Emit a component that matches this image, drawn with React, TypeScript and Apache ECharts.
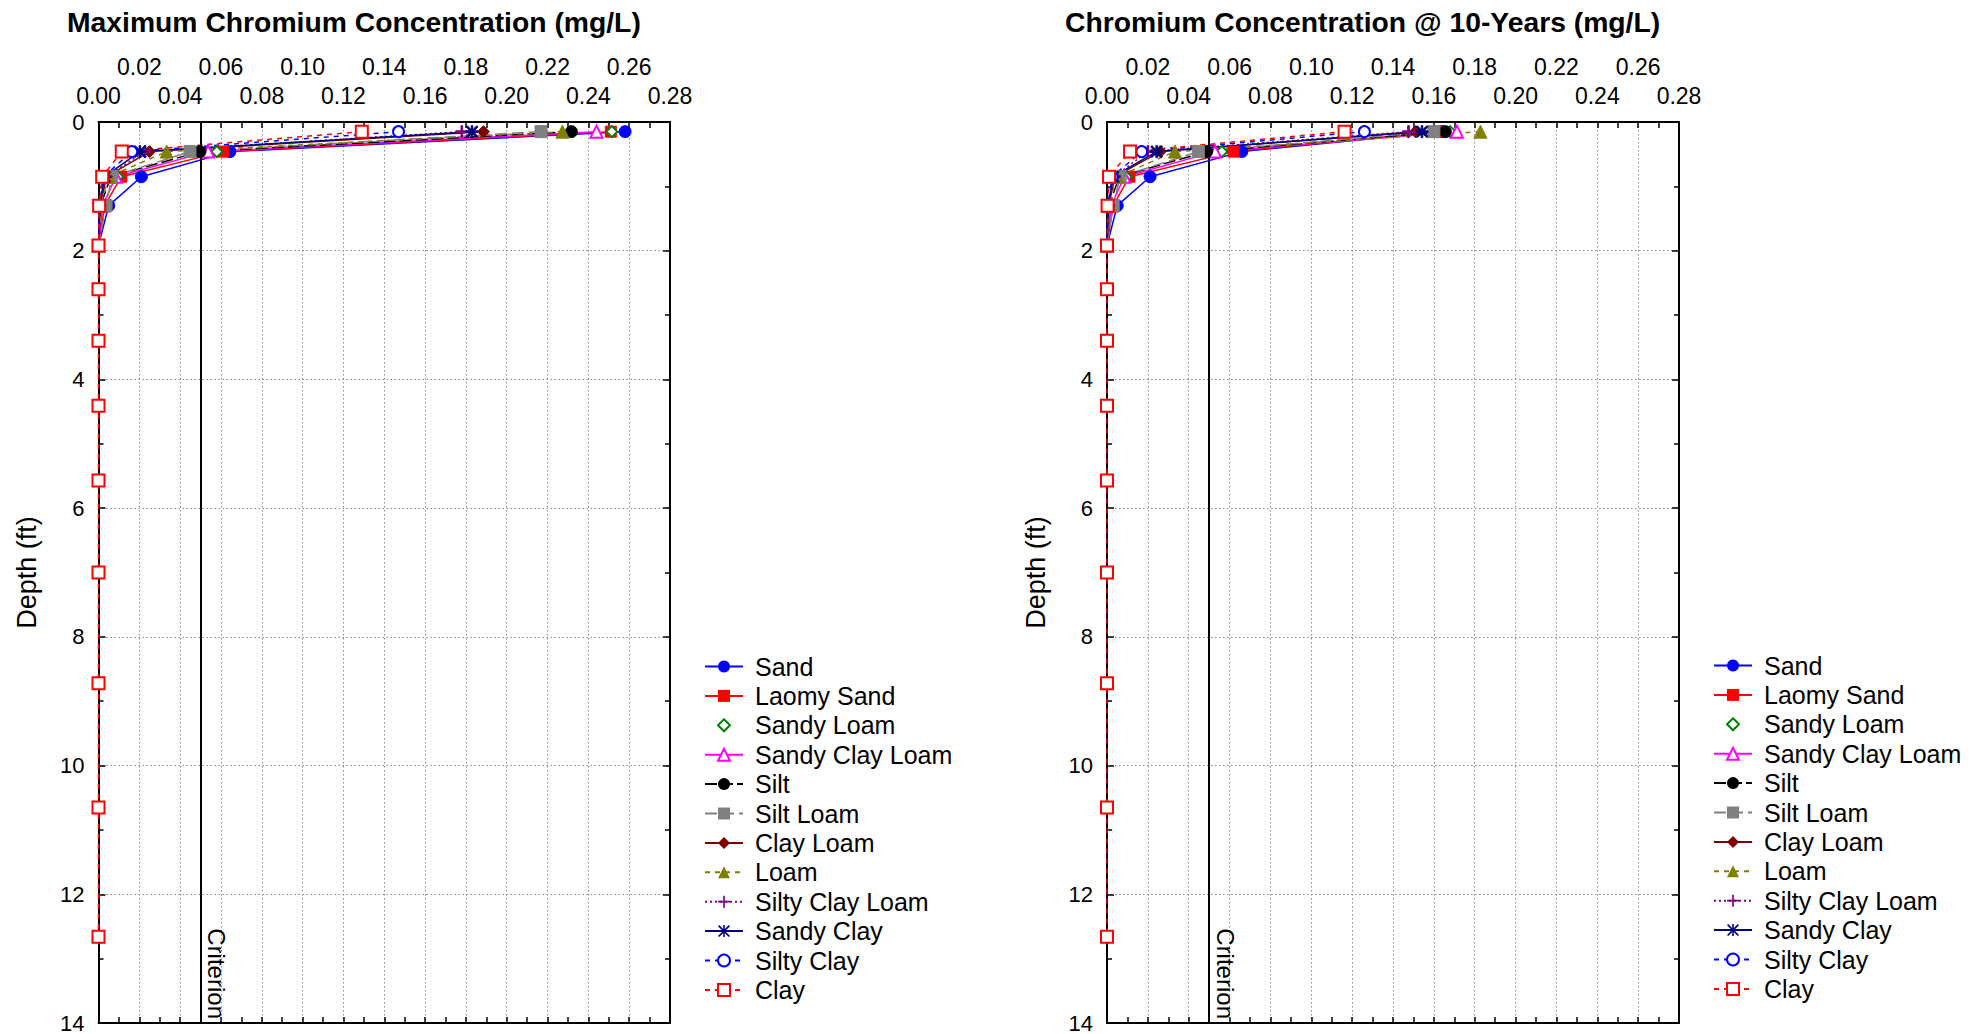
import React, { useEffect, useRef } from "react";
import * as echarts from "echarts";

// ---------- DATA ----------
const seriesNames = [
  "Sand",
  "Laomy Sand",
  "Sandy Loam",
  "Sandy Clay Loam",
  "Silt",
  "Silt Loam",
  "Clay Loam",
  "Loam",
  "Silty Clay Loam",
  "Sandy Clay",
  "Silty Clay",
  "Clay",
];

// depth nodes (ft)
const depthsShallow = [0.15, 0.46, 0.85, 1.3, 1.92];
const depthsClay = [0.15, 0.46, 0.85, 1.3, 1.92, 2.6, 3.4, 4.41, 5.57, 7.0, 8.72, 10.65, 12.66];

// Maximum concentration (mg/L)
const maxSand = [0.258, 0.0644, 0.021, 0.005, 0];
const maxLaomySand = [0.251, 0.061, 0.0112, 0.003, 0];
const maxSandyLoam = [0.2515, 0.058, 0.0095, 0.0025, 0];
const maxSandyClayLoam = [0.244, 0.0537, 0.0085, 0.002, 0];
const maxSilt = [0.2317, 0.0497, 0.006, 0.001, 0];
const maxSiltLoam = [0.2168, 0.0448, 0.0065, 0.0037, 0];
const maxClayLoam = [0.1886, 0.025, 0.004, 0.0008, 0];
const maxLoam = [0.2273, 0.0334, 0.005, 0.001, 0];
const maxSiltyClayLoam = [0.178, 0.0228, 0.0035, 0.0006, 0];
const maxSandyClay = [0.183, 0.0203, 0.003, 0.0005, 0];
const maxSiltyClay = [0.147, 0.0163, 0.0025, 0.0004, 0];
const maxClay = [0.129, 0.0114, 0.0018, 0.0003, 0, 0, 0, 0, 0, 0, 0, 0, 0];

// Concentration at 10 years (mg/L)
const yr10Sand = [0.164, 0.066, 0.0211, 0.005, 0];
const yr10LaomySand = [0.1623, 0.0619, 0.011, 0.003, 0];
const yr10SandyLoam = [0.168, 0.0562, 0.0095, 0.0025, 0];
const yr10SandyClayLoam = [0.1713, 0.0529, 0.0085, 0.002, 0];
const yr10Silt = [0.1656, 0.0488, 0.006, 0.001, 0];
const yr10SiltLoam = [0.16, 0.0447, 0.0064, 0.003, 0];
const yr10ClayLoam = [0.151, 0.026, 0.004, 0.0008, 0];
const yr10Loam = [0.1828, 0.0333, 0.005, 0.001, 0];
const yr10SiltyClayLoam = [0.1476, 0.02, 0.0035, 0.0006, 0];
const yr10SandyClay = [0.1542, 0.0243, 0.003, 0.0005, 0];
const yr10SiltyClay = [0.126, 0.017, 0.0025, 0.0004, 0];
const yr10Clay = [0.1163, 0.0113, 0.001, 0.0003, 0, 0, 0, 0, 0, 0, 0, 0, 0];

const criterion = 0.05;
const xMin = 0;
const xMax = 0.28;
const xStep = 0.02;
const yMin = 0;
const yMax = 14;
const yStep = 2;

const titles = [
  "Maximum Chromium Concentration (mg/L)",
  "Chromium Concentration @ 10-Years (mg/L)",
];
const yName = "Depth (ft)";
const criterionLabel = "Criterion";

// ---------- STYLES ----------
const FONT = "'Liberation Sans', Arial, Helvetica, sans-serif";
const PLUS =
  "path://M4.3,0H5.7V4.3H10V5.7H5.7V10H4.3V5.7H0V4.3H4.3Z";
const STAR =
  "path://M0,4.35H10V5.65H0Z M4.35,0H5.65V10H4.35Z M1,0L10,9L9,10L0,1Z M9,0L10,1L1,10L0,9Z";

const seriesStyles: any[] = [
  { color: "#0000ff", symbol: "circle", size: 12, dash: "solid", line: true },
  { color: "#ff0000", symbol: "rect", size: 11, dash: "solid", line: true },
  { color: "#008000", symbol: "emptyDiamond", size: 11, dash: "solid", line: false },
  { color: "#ff00ff", symbol: "emptyTriangle", size: 12, dash: "solid", line: true },
  { color: "#000000", symbol: "circle", size: 12, dash: [12, 4], line: true },
  { color: "#808080", symbol: "rect", size: 12, dash: [12, 5], line: true },
  { color: "#800000", symbol: "diamond", size: 12, dash: "solid", line: true },
  { color: "#808000", symbol: "triangle", size: 13, dash: [5, 5], line: true },
  { color: "#800080", symbol: PLUS, size: 12, dash: [2, 3], line: true },
  { color: "#000080", symbol: STAR, size: 12, dash: "solid", line: true },
  { color: "#0000ff", symbol: "emptyCircle", size: 11, dash: [5, 5], line: true },
  { color: "#ff0000", symbol: "emptyRect", size: 12, dash: [5, 5], line: true },
];

const maxValues = [
  maxSand, maxLaomySand, maxSandyLoam, maxSandyClayLoam, maxSilt, maxSiltLoam,
  maxClayLoam, maxLoam, maxSiltyClayLoam, maxSandyClay, maxSiltyClay, maxClay,
];
const yr10Values = [
  yr10Sand, yr10LaomySand, yr10SandyLoam, yr10SandyClayLoam, yr10Silt, yr10SiltLoam,
  yr10ClayLoam, yr10Loam, yr10SiltyClayLoam, yr10SandyClay, yr10SiltyClay, yr10Clay,
];
const panels = [maxValues, yr10Values];

const grids = [
  { left: 98.5, top: 122, width: 571.5, height: 902 },
  { left: 1107, top: 122, width: 572, height: 902 },
];
const titlePos = [
  { left: 67, top: 8 },
  { left: 1065, top: 8 },
];
const legendPos = [
  { left: 704, top: 654 },
  { left: 1713, top: 653 },
];

function buildOption() {
  const xAxis: any[] = [];
  const yAxis: any[] = [];
  const series: any[] = [];
  const tickLine = { color: "#000", width: 1.5 };
  const gridLine = { color: "#8c8c8c", type: [1.5, 2.5], width: 1 };
  const labelFont = { color: "#000", fontFamily: FONT, fontSize: 23 };
  const rowLabel = (odd: boolean) => (v: number) => {
    const k = Math.round(v / xStep);
    return (k % 2 === 1) === odd ? v.toFixed(2) : "";
  };

  grids.forEach((_, g) => {
    // main top axis (lower label row: 0.00, 0.04, ...)
    xAxis.push({
      type: "value",
      gridIndex: g,
      position: "top",
      min: xMin,
      max: xMax,
      interval: xStep,
      axisLine: { show: true, onZero: false, lineStyle: { color: "#000", width: 2 } },
      axisTick: { show: true, inside: true, length: 6, lineStyle: tickLine },
      minorTick: { show: true, splitNumber: 2, length: 6, lineStyle: tickLine },
      splitLine: { show: true, lineStyle: gridLine },
      axisLabel: { show: true, ...labelFont, margin: 15, formatter: rowLabel(false) },
    });
    // staggered upper label row (0.02, 0.06, ...)
    xAxis.push({
      type: "value",
      gridIndex: g,
      position: "top",
      offset: 29,
      min: xMin,
      max: xMax,
      interval: xStep,
      axisLine: { show: false, onZero: false },
      axisTick: { show: false },
      minorTick: { show: false },
      splitLine: { show: false },
      axisLabel: { show: true, ...labelFont, margin: 15, formatter: rowLabel(true) },
    });
    // bottom frame axis
    xAxis.push({
      type: "value",
      gridIndex: g,
      position: "bottom",
      min: xMin,
      max: xMax,
      interval: xStep,
      axisLine: { show: true, onZero: false, lineStyle: { color: "#000", width: 2 } },
      axisTick: { show: true, inside: true, length: 6, lineStyle: tickLine },
      minorTick: { show: true, splitNumber: 2, length: 6, lineStyle: tickLine },
      splitLine: { show: false },
      axisLabel: { show: false },
    });
    yAxis.push({
      type: "value",
      gridIndex: g,
      position: "left",
      inverse: true,
      min: yMin,
      max: yMax,
      interval: yStep,
      name: yName,
      nameLocation: "middle",
      nameGap: 58,
      nameTextStyle: { color: "#000", fontFamily: FONT, fontSize: 27 },
      axisLine: { show: true, onZero: false, lineStyle: { color: "#000", width: 2 } },
      axisTick: { show: true, inside: true, length: 7, lineStyle: tickLine },
      minorTick: { show: true, splitNumber: 2, length: 5, lineStyle: tickLine },
      splitLine: { show: true, lineStyle: gridLine },
      axisLabel: {
        show: true,
        color: "#000",
        fontFamily: FONT,
        fontSize: 22,
        margin: 14,
      },
    });
    yAxis.push({
      type: "value",
      gridIndex: g,
      position: "right",
      inverse: true,
      min: yMin,
      max: yMax,
      interval: yStep,
      axisLine: { show: true, onZero: false, lineStyle: { color: "#000", width: 2 } },
      axisTick: { show: true, inside: true, length: 7, lineStyle: tickLine },
      minorTick: { show: true, splitNumber: 2, length: 5, lineStyle: tickLine },
      splitLine: { show: false },
      axisLabel: { show: false },
    });

    panels[g].forEach((vals, i) => {
      const st = seriesStyles[i];
      const depths = vals.length === depthsClay.length ? depthsClay : depthsShallow;
      series.push({
        type: "line",
        name: seriesNames[i],
        xAxisIndex: g * 3,
        yAxisIndex: g * 2,
        data: vals.map((v, k) => [v, depths[k]]),
        symbol: st.symbol,
        symbolSize: st.size,
        showSymbol: true,
        showAllSymbol: true,
        clip: false,
        lineStyle: {
          color: st.color,
          width: 1.5,
          type: st.dash,
          opacity: st.line ? 1 : 0,
        },
        itemStyle: { color: st.color, borderColor: st.color },
        emphasis: { disabled: true },
        markLine:
          i === seriesNames.length - 1
            ? {
                silent: true,
                symbol: ["none", "none"],
                lineStyle: { color: "#000", width: 2, type: "solid" },
                label: {
                  show: true,
                  formatter: criterionLabel,
                  position: "insideEndTop",
                  color: "#000",
                  fontFamily: FONT,
                  fontSize: 24,
                  distance: 4,
                },
                emphasis: { disabled: true },
                data: [{ xAxis: criterion }],
              }
            : undefined,
      });
    });
  });

  return {
    animation: false,
    backgroundColor: "#fff",
    title: titles.map((t, g) => ({
      text: t,
      left: titlePos[g].left,
      top: titlePos[g].top,
      padding: 0,
      textStyle: { color: "#000", fontFamily: FONT, fontSize: 28.3, fontWeight: "bold" },
    })),
    grid: grids.map((gr) => ({ ...gr, containLabel: false })),
    legend: legendPos.map((p) => ({
      orient: "vertical",
      left: p.left,
      top: p.top,
      itemWidth: 38,
      itemHeight: 15,
      itemGap: 4.4,
      padding: 0,
      selectedMode: false,
      data: seriesNames,
      textStyle: {
        color: "#000",
        fontFamily: FONT,
        fontSize: 25,
        lineHeight: 25,
        padding: [0, 0, 0, 7],
      },
    })),
    xAxis,
    yAxis,
    series,
  };
}

export default function App() {
  const ref = useRef<HTMLDivElement>(null);
  useEffect(() => {
    if (!ref.current) return;
    const chart = echarts.init(ref.current, null, { renderer: "svg", width: 1976, height: 1034 });
    chart.setOption(buildOption() as any);
    return () => chart.dispose();
  }, []);
  return (
    <div
      ref={ref}
      style={{ position: "absolute", left: 0, top: 0, width: 1976, height: 1034, background: "#fff" }}
    />
  );
}
